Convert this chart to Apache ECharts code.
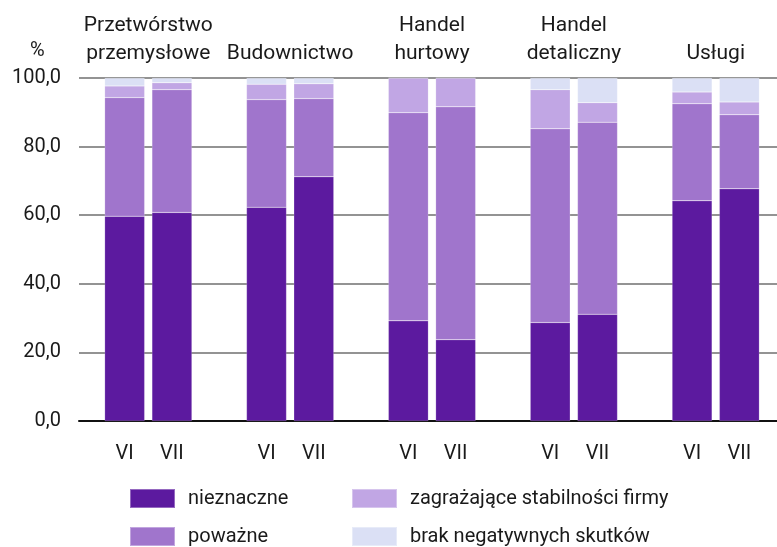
<!DOCTYPE html>
<html>
<head>
<meta charset="utf-8">
<script src="https://cdn.jsdelivr.net/npm/echarts@6/dist/echarts.min.js"></script>
<style>
  html, body { margin: 0; padding: 0; background: #fff; }
  #chart { width: 777px; height: 547px; }
</style>
</head>
<body>
<div id="chart"></div>
<script>
// grupy i miesiące
var groups = ['Przetwórstwo\nprzemysłowe', 'Budownictwo', 'Handel\nhurtowy', 'Handel\ndetaliczny', 'Usługi'];
var months = ['VI', 'VII'];

// wartości (%) – kolejno: grupa1 VI, grupa1 VII, grupa2 VI, ...
var nieznaczne = [59.7, 60.8, 62.3, 71.2, 29.2, 23.7, 28.7, 31.1, 64.2, 67.7];
var powazne    = [34.6, 35.8, 31.4, 22.8, 60.7, 67.9, 56.5, 56.0, 28.3, 21.6];
var zagrazajace = [3.4, 2.0, 4.5, 4.3, 10.1, 8.4, 11.4, 5.7, 3.4, 3.7];
var brak       = [2.3, 1.4, 1.8, 1.7, 0, 0, 3.4, 7.2, 4.1, 7.0];

var yTicks = [0, 20, 40, 60, 80, 100];

// kategorie z pustym miejscem między grupami
var cats = [];
var groupPos = [];
groups.forEach(function (g, i) {
    if (i > 0) cats.push('');
    groupPos.push(cats.length + 0.5);
    months.forEach(function (m) { cats.push(m); });
});

function spread(arr) {
    var out = [];
    var k = 0;
    cats.forEach(function (c) {
        if (c === '') out.push('-');
        else out.push(arr[k++]);
    });
    return out;
}

var colors = ['#5c1a9f', '#a075cc', '#c1a6e4', '#dbe0f5'];
var font = 'Roboto';
var txt = '#1a1a1a';

function bar(name, arr, color) {
    return {
        name: name,
        type: 'bar',
        stack: 'all',
        barWidth: 40,
        xAxisIndex: 0,
        yAxisIndex: 0,
        itemStyle: { color: color, borderColor: 'rgba(255,255,255,0.35)', borderWidth: 0.5 },
        data: spread(arr)
    };
}

// jedna pozycja legendy = jeden komponent (bez zawijania)
function legendItem(name, left, top) {
    return {
        data: [name],
        left: left, top: top,
        padding: 0,
        itemWidth: 45, itemHeight: 19,
        icon: 'rect',
        selectedMode: false,
        textStyle: { fontFamily: font, fontSize: 20, color: txt, padding: [0, 0, 0, 8] }
    };
}

var myChart = echarts.init(document.getElementById('chart'));

var option = {
    backgroundColor: '#fff',
    animation: false,
    textStyle: { fontFamily: font, color: txt },
    title: {
        text: '%',
        left: 30,
        top: 41,
        padding: 0,
        textStyle: { fontFamily: font, fontSize: 20, fontWeight: 'normal', color: txt }
    },
    grid: [
        { left: 101, right: 14, top: 78, bottom: 126 },
        { left: 79, right: 0, top: 78, bottom: 126 }
    ],
    legend: [
        legendItem('nieznaczne', 129, 488),
        legendItem('poważne', 129, 526),
        legendItem('zagrażające stabilności firmy', 351, 488),
        legendItem('brak negatywnych skutków', 351, 526)
    ],
    xAxis: [
        {
            type: 'category',
            gridIndex: 0,
            data: cats,
            axisLine: { show: false },
            axisTick: { show: false },
            axisLabel: { fontSize: 20, color: txt, margin: 23, interval: 0 }
        },
        {
            type: 'value',
            gridIndex: 0,
            position: 'top',
            min: -0.5,
            max: cats.length - 0.5,
            axisLine: { show: false },
            axisTick: { show: false },
            splitLine: { show: false },
            axisLabel: {
                customValues: groupPos,
                fontSize: 21,
                lineHeight: 28,
                color: txt,
                margin: 10,
                verticalAlign: 'bottom',
                formatter: function (v) {
                    var i = groupPos.indexOf(v);
                    return i >= 0 ? groups[i] : '';
                }
            }
        },
        {
            type: 'value',
            gridIndex: 1,
            min: 0, max: 1,
            axisLine: { show: true, lineStyle: { color: '#111', width: 2 } },
            axisTick: { show: false },
            axisLabel: { show: false },
            splitLine: { show: false }
        }
    ],
    yAxis: [
        { type: 'value', gridIndex: 0, min: 0, max: 100, show: false },
        {
            type: 'value',
            gridIndex: 1,
            min: yTicks[0],
            max: yTicks[yTicks.length - 1],
            interval: 20,
            axisLine: { show: false },
            axisTick: { show: false },
            axisLabel: {
                fontSize: 20,
                color: txt,
                margin: 18,
                formatter: function (v) { return v.toFixed(1).replace('.', ','); }
            },
            splitLine: { lineStyle: { color: '#6f6f6f', width: 1.5 } }
        }
    ],
    series: [
        bar('nieznaczne', nieznaczne, colors[0]),
        bar('poważne', powazne, colors[1]),
        bar('zagrażające stabilności firmy', zagrazajace, colors[2]),
        bar('brak negatywnych skutków', brak, colors[3])
    ]
};

myChart.setOption(option);
</script>
</body>
</html>
